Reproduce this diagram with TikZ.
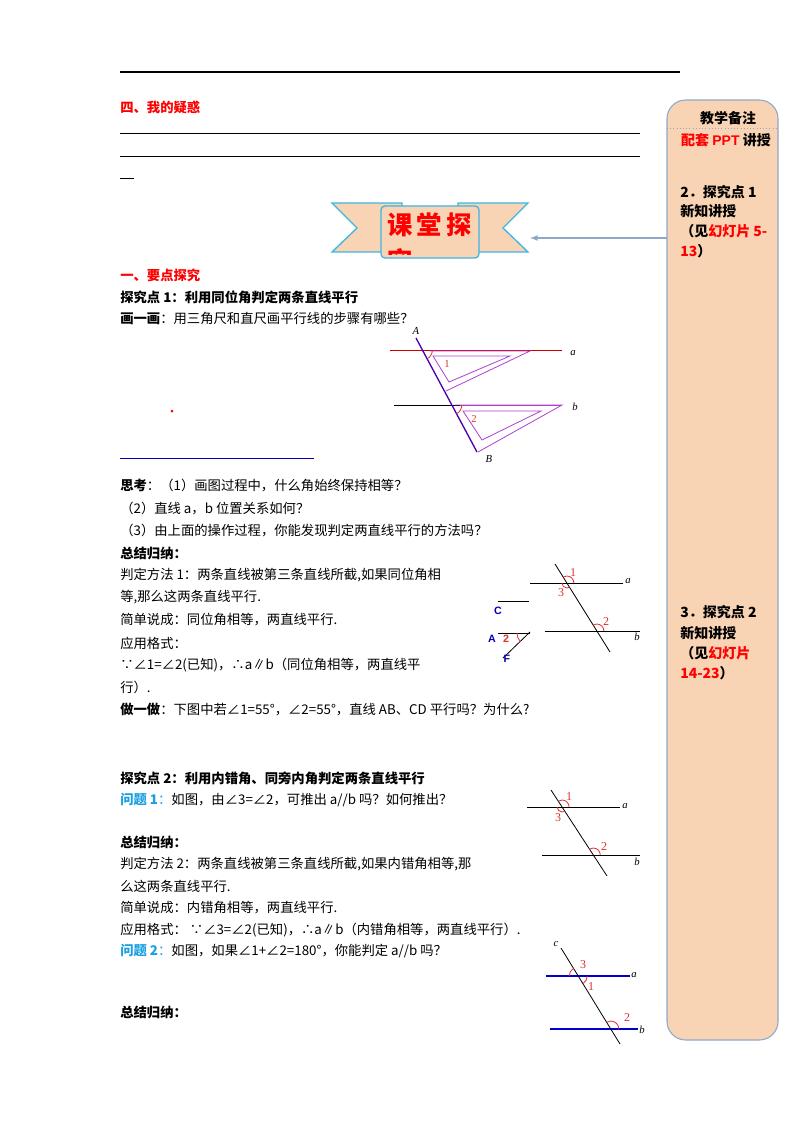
\documentclass[tikz,border=0pt]{standalone}
\usepackage{fontspec}
\setmainfont{Noto Sans CJK SC}
\newfontfamily\lat{Liberation Serif}
\newfontfamily\ars{Liberation Sans}
\definecolor{peach}{HTML}{F8D3B4}
\definecolor{sideb}{HTML}{8EA9C8}
\definecolor{ribb}{HTML}{3DB7E4}
\definecolor{qblue}{HTML}{1BA1E2}
\definecolor{purp}{HTML}{B040D0}
\definecolor{angr}{HTML}{E03030}
% visual-angle arc: center, from, to, radius
\newcommand\angarc[4]{\draw[angr,line width=0.6pt] (#1) ++(-#2:#4) arc (-#2:-#3:#4);}
\begin{document}
\begin{tikzpicture}[x=0.75pt,y=-0.75pt,
 txt/.style={anchor=west,inner sep=0pt,font=\fontsize{10}{12}\selectfont},
 bt/.style={txt,font=\fontsize{10}{12}\selectfont\bfseries},
 rt/.style={bt,text=red},
 st/.style={anchor=center,inner sep=0pt,font=\fontsize{10.5}{12}\selectfont\bfseries},
 sb/.style={anchor=west,inner sep=0pt,font=\fontsize{10.5}{12}\selectfont\bfseries},
 lab/.style={inner sep=0pt,font=\fontsize{8}{9}\selectfont\lat\itshape},
 num/.style={inner sep=0pt,text=angr,font=\fontsize{9}{9}\selectfont\lat},
 ln/.style={line width=0.6pt}]
\useasboundingbox (0,0) rectangle (800,1132);
\fill[white] (0,0) rectangle (800,1132);
% top rules
\draw[line width=0.8pt] (120,72) -- (680,72);
\node[rt] (t1) at (120,107) {四、我的疑惑};
\draw[line width=0.6pt] (120,133) -- (640,133);
\draw[line width=0.6pt] (120,156) -- (640,156);
\draw[line width=0.6pt] (120,178) -- (134,178);
% sidebar
\draw[sideb,fill=peach,rounded corners=14pt,line width=0.8pt] (667,100) rectangle (778,1040);
\node[st] (s0) at (728,118) {教学备注};
\draw[sideb,dotted] (667,128) -- (778,128);
\node[st] (s1) at (726,140) {\textcolor{red}{配套 {\ars PPT}} 讲授};
\node[sb] (s2) at (680,192) {2．探究点 1};
\node[sb] (s3) at (680,211) {新知讲授};
\node[sb] (s4) at (680,231) {（见\textcolor{red}{幻灯片 5-}};
\node[sb] (s5) at (680,251) {\textcolor{red}{13}）};
\node[sb] (s6) at (680,612) {3．探究点 2};
\node[sb] (s7) at (680,633) {新知讲授};
\node[sb] (s8) at (680,653) {（见\textcolor{red}{幻灯片}};
\node[sb] (s9) at (680,673) {\textcolor{red}{14-23}）};
% banner
\draw[ribb,fill=peach,line width=1pt] (332,203) -- (402,203) -- (402,252) -- (332,252) -- (357,228) -- cycle;
\draw[ribb,fill=peach,line width=1pt] (458,203) -- (528,203) -- (503,228) -- (528,252) -- (458,252) -- cycle;
\draw[ribb,fill=peach,line width=1pt,rounded corners=3pt] (381,206) rectangle (479,258);
\coordinate (bn) at (530,238);
\begin{scope}
\clip (383,208) rectangle (477,254);
\node[inner sep=0pt,text=red,font=\fontsize{19}{27}\selectfont\bfseries,align=left,anchor=north west] (btx) at (387,213) {课\,堂\,探\\究};
\end{scope}
\coordinate (sa) at (667,238);
\draw[-latex,sideb,line width=1pt] (sa) -- (bn);
% section
\node[rt] (h1) at (120,275) {一、要点探究};
\node[bt] (h2) at (120,297) {探究点 1：利用同位角判定两条直线平行};
\node[txt] (h3) at (120,318) {\textbf{画一画}：用三角尺和直尺画平行线的步骤有哪些？};
\fill[red] (172,411) circle (1.5);
\draw[blue!70!black,line width=0.6pt] (120,458) -- (314,458);
% figure 1
\draw[red!80!black,ln] (390,350) -- (562,350);
\draw[ln] (394,405) -- (460,405);
\draw[purp,ln] (460,405) -- (562,405);
\draw[purp,ln] (430,351) -- (530,351) -- (446,391);
\draw[purp,ln] (433,356) -- (510,356) -- (449,382) -- cycle;
\draw[purp,ln] (455,405) -- (562,405) -- (478,452);
\draw[purp,ln] (463,411) -- (541,411) -- (482,440) -- cycle;
\draw[blue!60!purple,line width=1pt] (416,338) -- (477,452);
\coordinate (i11) at (422.4,350);
\coordinate (i12) at (451.8,405);
\angarc{i11}{0}{-62}{10}
\angarc{i12}{0}{-62}{10}
\node[lab] (A1) at (416,331) {A};
\node[lab] (B1) at (489,459) {B};
\node[lab] (a1) at (573,353) {a};
\node[lab] (b1) at (575,407) {b};
\node[num,font=\fontsize{8}{9}\selectfont\lat] (n11) at (447,364) {1};
\node[num,font=\fontsize{8}{9}\selectfont\lat] (n12) at (474,419) {2};
% texts
\node[txt] (p1) at (120,485) {\textbf{思考}：（1）画图过程中，什么角始终保持相等？};
\node[txt] (p2) at (120,508) {（2）直线 a，b 位置关系如何？};
\node[txt] (p3) at (120,530) {（3）由上面的操作过程，你能发现判定两直线平行的方法吗？};
\node[bt] (p4) at (120,553) {总结归纳：};
\node[txt] (p5) at (120,575) {判定方法 1：两条直线被第三条直线所截,如果同位角相};
\node[txt] (p6) at (120,597) {等,那么这两条直线平行.};
\node[txt] (p7) at (120,620) {简单说成：同位角相等，两直线平行.};
\node[txt] (p8) at (120,643) {应用格式：};
\node[txt] (p9) at (120,665) {∵∠1=∠2(已知)，∴a∥b（同位角相等，两直线平};
\node[txt] (p10) at (120,687) {行）.};
\node[txt] (p11) at (120,710) {\textbf{做一做}：下图中若∠1=55°，∠2=55°，直线 AB、CD 平行吗？为什么?};
% figure 2
\draw[ln] (530,583) -- (623,583);
\draw[ln] (545,631) -- (640,631);
\draw[ln] (555,564) -- (610,652);
\coordinate (i21) at (566.9,583);
\coordinate (i22) at (596.9,631);
\angarc{i21}{0}{122}{7}
\angarc{i21}{180}{302}{5}
\angarc{i22}{0}{122}{7}
\node[num] (n21) at (573,573) {1};
\node[num] (n23) at (561,593) {3};
\node[num] (n22) at (606,622) {2};
\node[lab] (a2) at (628,581) {a};
\node[lab] (b2) at (637,637) {b};
\draw[ln] (498,601) -- (529,601);
\draw[ln] (498,633) -- (530,633);
\draw[ln] (503,658) -- (530,632);
\coordinate (iA) at (530,633);
\node[inner sep=0pt,text=blue!70!black,font=\fontsize{8}{9}\selectfont\ars\bfseries] (C2) at (498,611) {C};
\node[inner sep=0pt,text=blue!70!black,font=\fontsize{8}{9}\selectfont\ars\bfseries] (A2) at (492,639) {A};
\node[inner sep=0pt,text=blue!70!black,font=\fontsize{8}{9}\selectfont\ars\bfseries] (F2) at (507,659) {F};
\node[inner sep=0pt,text=angr,font=\fontsize{8}{9}\selectfont\ars\bfseries] (n2b) at (506,639) {2};
\angarc{iA}{180}{223}{13}
% section 2
\node[bt] (q1) at (120,778) {探究点 2：利用内错角、同旁内角判定两条直线平行};
\node[txt] (q2) at (120,800) {\textcolor{qblue}{\textbf{问题 1}：}如图，由∠3=∠2，可推出 a//b 吗？如何推出？};
\node[bt] (q3) at (120,842) {总结归纳：};
\node[txt] (q4) at (120,864) {判定方法 2：两条直线被第三条直线所截,如果内错角相等,那};
\node[txt] (q5) at (120,886) {么这两条直线平行.};
\node[txt] (q6) at (120,908) {简单说成：内错角相等，两直线平行.};
\node[txt] (q7) at (120,930) {应用格式： ∵∠3=∠2(已知)，∴a∥b（内错角相等，两直线平行）.};
\node[txt] (q8) at (120,951) {\textcolor{qblue}{\textbf{问题 2}：}如图，如果∠1+∠2=180°，你能判定 a//b 吗？};
\node[bt] (q9) at (120,1012) {总结归纳：};
% figure 3
\draw[ln] (527,807) -- (620,807);
\draw[ln] (542,855) -- (640,855);
\draw[ln] (551,790) -- (607,876);
\coordinate (i31) at (562.1,807);
\coordinate (i32) at (593.3,855);
\angarc{i31}{0}{123}{7}
\angarc{i31}{180}{303}{5}
\angarc{i32}{0}{123}{7}
\node[num] (n31) at (569,797) {1};
\node[num] (n33) at (558,818) {3};
\node[num] (n32) at (604,847) {2};
\node[lab] (a3) at (625,806) {a};
\node[lab] (b3) at (637,862) {b};
% figure 4
\draw[blue!80!black,line width=1.2pt] (546,976) -- (630,976);
\draw[blue!80!black,line width=1.2pt] (550,1029) -- (638,1029);
\draw[ln] (561,948) -- (620,1044);
\coordinate (i41) at (578.2,976);
\coordinate (i42) at (610.8,1029);
\angarc{i41}{180}{122}{9}
\angarc{i41}{0}{-58}{9}
\angarc{i42}{0}{122}{8}
\node[lab] (c4) at (556,944) {c};
\node[num] (n43) at (583,965) {3};
\node[num] (n41) at (591,987) {1};
\node[num] (n42) at (627,1018) {2};
\node[lab] (a4) at (634,975) {a};
\node[lab] (b4) at (642,1030) {b};
\end{tikzpicture}
\end{document}
